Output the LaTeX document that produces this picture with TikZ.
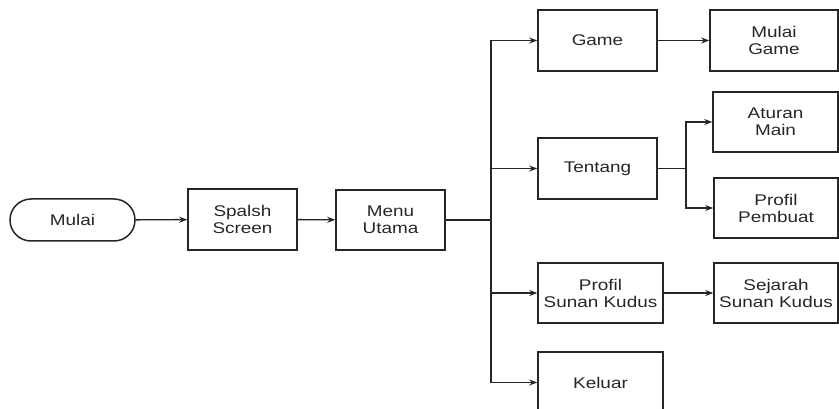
\documentclass[tikz,border=0pt]{standalone}
\usepackage{fontspec}
\setmainfont{Liberation Sans}[FakeStretch=1.22]
\usetikzlibrary{shapes.misc,arrows.meta}
\definecolor{ink}{HTML}{262626}
\tikzset{
  box/.style={draw=ink,line width=1.5pt,rectangle,align=center,inner sep=0pt,
    text=ink,font=\fontsize{15.5}{17}\selectfont},
  term/.style={box,rounded rectangle},
  arr/.style={draw=ink,line width=1.4pt,-{Stealth[length=8pt,width=6pt]}},
  ln/.style={draw=ink,line width=1.4pt}
}
\begin{document}
\begin{tikzpicture}[x=1pt,y=-1pt]
\useasboundingbox (0,0) rectangle (839,409);
\node[term,minimum width=125pt,minimum height=42pt] (mulai) at (72.5,220) {Mulai};
\node[box,minimum width=109pt,minimum height=61pt] (splash) at (242.5,219.5) {Spalsh\\Screen};
\node[box,minimum width=109pt,minimum height=60pt] (menu) at (390.5,220) {Menu\\Utama};
\node[box,minimum width=119pt,minimum height=61pt] (game) at (597.5,40.5) {Game};
\node[box,minimum width=119pt,minimum height=61pt] (tentang) at (597.5,168.5) {Tentang};
\node[box,minimum width=125pt,minimum height=60pt] (psk) at (600.5,293) {Profil\\Sunan Kudus};
\node[box,minimum width=125pt,minimum height=61pt] (keluar) at (600.5,382.5) {Keluar};
\node[box,minimum width=128pt,minimum height=61pt] (mgame) at (774,40.5) {Mulai\\Game};
\node[box,minimum width=125pt,minimum height=60pt] (aturan) at (775.5,122) {Aturan\\Main};
\node[box,minimum width=124pt,minimum height=60pt] (pembuat) at (776,208) {Profil\\Pembuat};
\node[box,minimum width=124pt,minimum height=60pt] (sejarah) at (776,293) {Sejarah\\Sunan Kudus};
\coordinate (j) at (491,220);
\coordinate (t) at (686,168.5);
\draw[arr] (mulai) -- (splash);
\draw[arr] (splash) -- (menu);
\draw[ln] (menu.east) -- (j);
\draw[arr] (j) |- (game.west);
\draw[arr] (j) |- (tentang.west);
\draw[arr] (j) |- (psk.west);
\draw[arr] (j) |- (keluar.west);
\draw[arr] (game) -- (mgame);
\draw[ln] (tentang.east) -- (t);
\draw[arr] (t) |- (aturan.west);
\draw[arr] (t) |- (pembuat.west);
\draw[arr] (psk) -- (sejarah);
\end{tikzpicture}
\end{document}
